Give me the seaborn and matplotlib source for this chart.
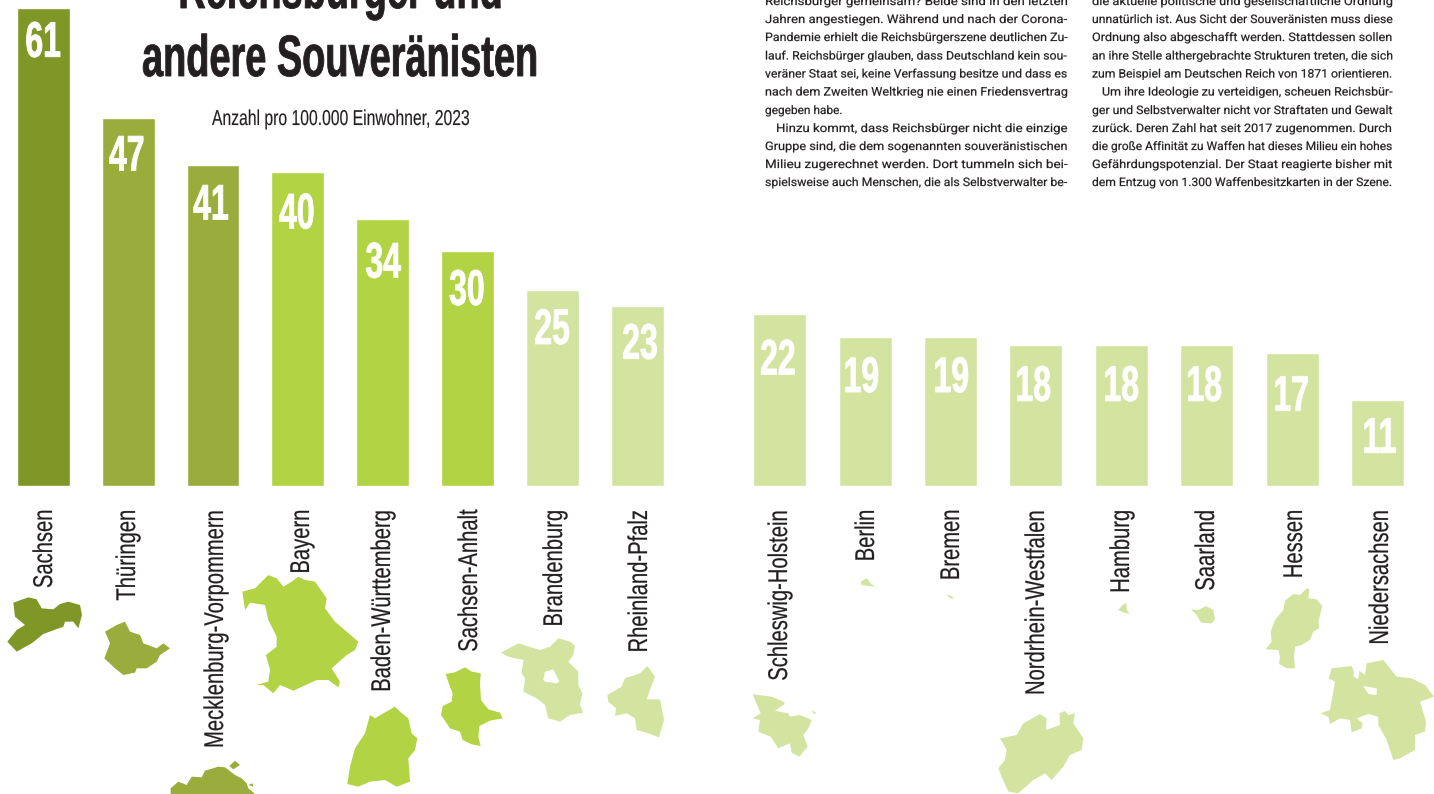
import matplotlib
matplotlib.use("Agg")
import matplotlib.pyplot as plt
import pandas as pd
import seaborn as sns
from matplotlib.patheffects import AbstractPathEffect
from matplotlib.transforms import Affine2D

# ---------------- data ----------------
states_left = ["Sachsen", "Thüringen", "Mecklenburg-Vorpommern", "Bayern",
               "Baden-Württemberg", "Sachsen-Anhalt", "Brandenburg", "Rheinland-Pfalz"]
values_left = [61, 47, 41, 40, 34, 30, 25, 23]
states_right = ["Schleswig-Holstein", "Berlin", "Bremen", "Nordrhein-Westfalen",
                "Hamburg", "Saarland", "Hessen", "Niedersachsen"]
values_right = [22, 19, 19, 18, 18, 18, 17, 11]

title_lines = ["Reichsbürger und", "andere Souveränisten"]
subtitle = "Anzahl pro 100.000 Einwohner, 2023"

column_left = [
    "Reichsbürger gemeinsam? Beide sind in den letzten",
    "Jahren angestiegen. Während und nach der Corona-",
    "Pandemie erhielt die Reichsbürgerszene deutlichen Zu-",
    "lauf. Reichsbürger glauben, dass Deutschland kein sou-",
    "veräner Staat sei, keine Verfassung besitze und dass es",
    "nach dem Zweiten Weltkrieg nie einen Friedensvertrag",
    "gegeben habe.",
    "Hinzu kommt, dass Reichsbürger nicht die einzige",
    "Gruppe sind, die dem sogenannten souveränistischen",
    "Milieu zugerechnet werden. Dort tummeln sich bei-",
    "spielsweise auch Menschen, die als Selbstverwalter be-",
]
column_right = [
    "die aktuelle politische und gesellschaftliche Ordnung",
    "unnatürlich ist. Aus Sicht der Souveränisten muss diese",
    "Ordnung also abgeschafft werden. Stattdessen sollen",
    "an ihre Stelle althergebrachte Strukturen treten, die sich",
    "zum Beispiel am Deutschen Reich von 1871 orientieren.",
    "Um ihre Ideologie zu verteidigen, scheuen Reichsbür-",
    "ger und Selbstverwalter nicht vor Straftaten und Gewalt",
    "zurück. Deren Zahl hat seit 2017 zugenommen. Durch",
    "die große Affinität zu Waffen hat dieses Milieu ein hohes",
    "Gefährdungspotenzial. Der Staat reagierte bisher mit",
    "dem Entzug von 1.300 Waffenbesitzkarten in der Szene.",
]

# ---------------- style ----------------
W, H = 1434, 794
BASE_Y, PX_PER_UNIT = 486.0, 7.84
DARK, MID, BRIGHT, LIGHT = "#7F9727", "#9AAD3C", "#B2D343", "#D3E4A1"
INK = "#231F20"
state_colors = [DARK, MID, MID, BRIGHT, BRIGHT, BRIGHT, LIGHT, LIGHT] + [LIGHT] * 8
left_x = [43.1 + 84.95 * i for i in range(8)]
right_x = [779.7 + 85.4 * i for i in range(8)]
label_x = [45, 128, 216, 302, 383, 470, 555, 640, 780, 867, 952, 1037, 1122, 1207, 1295, 1381]
number_x = [43, 127, 211, 297, 383, 467, 552, 640, 778, 861, 951, 1033, 1121, 1204, 1291, 1379]
number_drop = [31, 35, 37, 38, 40, 36, 36, 35, 43, 37, 37, 38, 38, 38, 40, 35]


class Condense(AbstractPathEffect):
    """Scale the glyph outlines of a text along its own baseline, optionally thickening them."""

    def __init__(self, factor, anchor="center", stroke=0.0):
        super().__init__()
        self.factor, self.anchor, self.stroke = factor, anchor, stroke

    def draw_path(self, renderer, gc, tpath, affine, rgbFace=None):
        pivot = 0.0
        if len(tpath.vertices):
            ext = tpath.get_extents()
            pivot = {"center": (ext.x0 + ext.x1) / 2, "right": ext.x1, "left": 0.0}[self.anchor]
        local = Affine2D().translate(-pivot, 0).scale(self.factor, 1).translate(pivot, 0)
        gc0 = renderer.new_gc()
        gc0.copy_properties(gc)
        if self.stroke and rgbFace is not None:
            gc0.set_linewidth(self.stroke)
            gc0.set_foreground(rgbFace)
        renderer.draw_path(gc0, tpath, local + affine, rgbFace)
        gc0.restore()


sns.set_theme(style="white")
fig = plt.figure(figsize=(W / 100, H / 100), dpi=100, facecolor="white")

# ---------------- bars ----------------
ax = fig.add_axes([0, 0, 1, 1])
df = pd.DataFrame({
    "state": states_left + states_right,
    "value": values_left + values_right,
    "pos": left_x + right_x,
})
sns.barplot(data=df, x="pos", y="value", hue="state", palette=state_colors, dodge=False,
            native_scale=True, width=53 / 84.95, saturation=1, legend=False, ax=ax, errorbar=None)
ax.set_xlim(0, W)
ax.set_ylim(-(H - BASE_Y) / PX_PER_UNIT, BASE_Y / PX_PER_UNIT)
ax.axis("off")

# ---------------- overlay in picture pixels ----------------
px = fig.add_axes([0, 0, 1, 1], facecolor="none")
px.set_xlim(0, W)
px.set_ylim(H, 0)
px.axis("off")
renderer = fig.canvas.get_renderer()


def put(x, y, s, size, factor, weight="normal", color=INK, family="Liberation Sans",
        rotation=0, ha="center", va="baseline", anchor="center", stroke=0.0):
    t = px.text(x, y, s, fontsize=size, fontweight=weight, color=color, family=family,
                rotation=rotation, ha=ha, va=va, rotation_mode="anchor", zorder=3)
    t.set_path_effects([Condense(factor, anchor, stroke)])
    return t


def fit_line(x, y, s, width):
    t = px.text(x, y, s, fontsize=8.4, color=INK, family="Roboto", ha="left", va="baseline", zorder=3)
    measured = t.get_window_extent(renderer).width
    t.set_path_effects([Condense(width / measured, "left", 0.15)])


put(341, 8, title_lines[0], 42, 0.65, weight="bold", stroke=0.6)
put(341, 76, title_lines[1], 42, 0.65, weight="bold", stroke=0.6)
put(341, 125, subtitle, 15.5, 0.73, stroke=0.1)

# body text, fitted to the two justified columns
line_y = [5, 23, 41, 59.5, 77.5, 95.5, 114, 132, 150, 168, 186]
for s, y in zip(column_left, line_y):
    if s.startswith("gegeben"):
        fit_line(765, y, s, 77)
    elif s.startswith("Hinzu"):
        fit_line(776, y, s, 289)
    else:
        fit_line(765, y, s, 300)
for s, y in zip(column_right, line_y):
    if s.startswith("Um ihre"):
        fit_line(1102, y, s, 288)
    else:
        fit_line(1092, y, s, 298)

# state names
for name, x in zip(states_left + states_right, label_x):
    put(x, 509, name, 19.5, 0.745, rotation=90, ha="right", va="center", anchor="right", stroke=0.15)

# values in the bars
for v, x, drop in zip(values_left + values_right, number_x, number_drop):
    put(x, BASE_Y - v * PX_PER_UNIT + drop, str(v), 36, 0.64, weight="bold", color="white",
        va="center_baseline", stroke=0.6)


def crop(ox, oy, pts):
    return [(ox + a / 3, oy + b / 3) for a, b in pts]


shapes = [
    (DARK, crop(0, 480, [(40,368),(85,352),(110,358),(125,385),(160,388),(180,372),(205,365),(240,375),(246,405),(235,445),(220,425),(195,425),(190,440),(130,462),(95,490),(50,515),(22,485),(50,450),(75,435),(45,410)])),
    (MID, crop(0, 480, [(315,455),(350,435),(375,425),(390,455),(420,465),(430,490),(470,505),(490,490),(510,505),(480,525),(470,545),(440,565),(410,565),(405,578),(370,585),(345,565),(313,535),(330,490)])),
    (BRIGHT, crop(0, 480, [(727,335),(765,325),(805,285),(830,295),(850,320),(875,305),(895,290),(915,300),(945,305),(980,355),(975,385),(1005,425),(1040,455),(1075,485),(1065,510),(1040,525),(995,565),(1020,605),(1015,622),(985,600),(950,600),(880,632),(840,615),(820,640),(790,615),(768,615),(805,605),(810,570),(798,525),(830,500),(830,470),(805,420),(795,375),(750,368),(735,390)])),
    (BRIGHT, crop(0, 480, [(1110,705),(1125,715),(1150,700),(1185,680),(1200,695),(1225,715),(1235,760),(1252,775),(1245,810),(1225,835),(1230,905),(1190,920),(1155,900),(1110,905),(1075,920),(1042,912),(1050,860),(1065,805),(1095,760)])),
    (BRIGHT, crop(160, 650, [(857,72),(885,67),(915,52),(935,65),(962,70),(960,100),(963,150),(985,178),(1020,188),(1028,205),(990,212),(958,228),(955,262),(962,288),(935,283),(908,270),(900,245),(870,235),(843,195),(848,168),(875,155),(878,130),(868,105)])),
    (MID, crop(160, 650, [(32,415),(55,395),(80,405),(95,380),(125,382),(135,362),(175,350),(195,352),(225,375),(245,385),(260,400),(265,415),(285,432),(32,432)])),
    (MID, crop(160, 650, [(208,348),(225,332),(240,345),(220,358)])),
    (MID, crop(160, 650, [(265,405),(278,400),(280,410)])),
    (LIGHT, crop(495, 630, [(18,68),(70,40),(135,60),(165,50),(190,25),(225,35),(240,48),(235,75),(220,95),(250,125),(250,165),(262,190),(255,225),(265,248),(225,255),(195,275),(160,265),(150,225),(125,205),(85,185),(90,145),(80,130),(85,90),(40,80)])),
    ("white", crop(495, 630, [(145,150),(150,125),(175,118),(193,155),(185,160),(150,155)])),
    (LIGHT, crop(160, 650, [(1342,135),(1385,110),(1395,85),(1440,70),(1462,48),(1485,80),(1470,120),(1460,148),(1500,148),(1512,210),(1497,262),(1465,250),(1430,240),(1425,205),(1400,190),(1365,198),(1368,175),(1345,155)])),
    (LIGHT, crop(740, 560, [(38,403),(95,410),(130,425),(135,432),(105,452),(145,460),(150,470),(180,465),(215,480),(205,505),(190,525),(203,560),(178,590),(155,578),(150,550),(115,565),(92,530),(55,515),(60,480),(38,475),(62,460)])),
    (LIGHT, crop(740, 560, [(215,450),(230,460),(222,462)])),
    (LIGHT, crop(740, 560, [(362,65),(380,55),(392,70),(405,80),(385,78),(365,75)])),
    (LIGHT, crop(740, 560, [(620,103),(635,108),(642,116),(630,115)])),
    (LIGHT, crop(740, 560, [(780,535),(830,525),(850,490),(900,462),(920,475),(918,510),(960,495),(958,460),(975,453),(985,465),(1005,460),(1000,490),(1030,535),(1025,570),(990,585),(970,620),(935,660),(915,640),(880,660),(835,700),(805,695),(785,650),(775,625),(795,600),(800,570)])),
    (LIGHT, crop(1100, 560, [(55,150),(65,138),(78,128),(80,148),(88,162),(70,157)])),
    (LIGHT, crop(1100, 560, [(273,148),(295,150),(318,138),(340,150),(345,178),(335,190),(303,188),(290,165)])),
    (LIGHT, crop(1100, 560, [(555,122),(580,102),(600,105),(620,85),(628,88),(625,115),(650,118),(667,138),(655,185),(658,205),(640,215),(630,240),(605,255),(585,260),(582,290),(585,325),(560,325),(537,312),(540,290),(535,270),(497,268),(515,245),(512,215),(525,180),(550,150)])),
    (LIGHT, crop(1100, 560, [(686,355),(695,325),(755,318),(762,335),(760,350),(775,358),(778,332),(795,345),(800,310),(850,300),(890,350),(935,355),(975,375),(1002,410),(960,425),(978,485),(975,515),(945,525),(945,570),(900,595),(880,600),(860,540),(835,495),(835,470),(805,462),(770,475),(788,490),(785,505),(755,517),(750,480),(720,475),(690,492),(685,470),(662,460),(690,450),(705,365)])),
    ("white", crop(1100, 560, [(790,378),(830,385),(830,405),(805,402)])),
]
for color, outline in shapes:
    px.fill(*zip(*outline), color=color, lw=0, zorder=1)

fig.savefig("out.png", dpi=100, facecolor="white")
